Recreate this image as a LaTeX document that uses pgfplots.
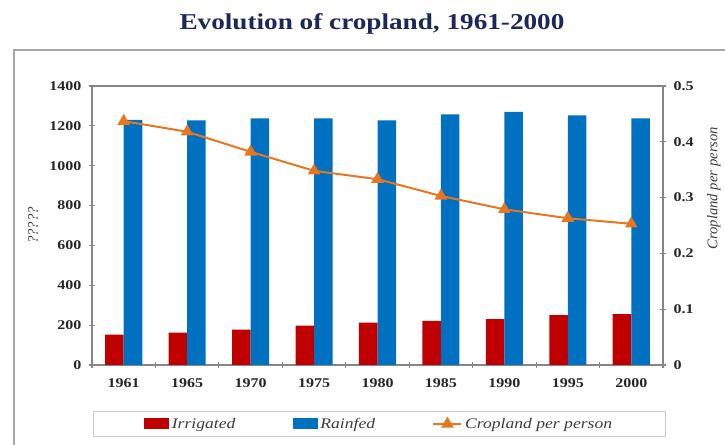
\documentclass[border=0pt]{standalone}
\usepackage{fontspec}
\setmainfont{Liberation Serif}[FakeStretch=1.2]
\newfontfamily\plainserif{Liberation Serif}
\usepackage{pgfplots}
\usepackage{pgfplotstable}
\pgfplotsset{compat=1.18}
\definecolor{irr}{RGB}{192,0,0}
\definecolor{rain}{RGB}{0,112,192}
\definecolor{crop}{RGB}{232,118,30}
\definecolor{ttl}{RGB}{28,40,86}
\definecolor{axgray}{RGB}{134,134,134}
\definecolor{txt}{RGB}{60,60,60}

\pgfplotstableread{
x year irr rain crop
0 1961 153 1230 0.437
1 1965 162 1228 0.418
2 1970 178 1238 0.382
3 1975 198 1238 0.348
4 1980 212 1228 0.333
5 1985 222 1258 0.303
6 1990 230 1270 0.279
7 1995 250 1253 0.263
8 2000 255 1238 0.253
}\data

\pgfplotsset{base/.style={
  scale only axis, width=428.25pt, height=209.25pt,
  at={(69pt,60pt)}, anchor=south west,
  xmin=-0.5, xmax=8.5,
  axis line style={axgray, line width=0.8pt},
  tick style={axgray, line width=0.8pt},
  tick align=center, major tick length=5pt, minor tick length=5pt,
  /pgf/number format/assume math mode=true,
  /pgf/number format/1000 sep={},
  ticklabel style={font=\fontsize{10}{12}\selectfont\bfseries, text=black!85},
},
barleg/.style={legend image code/.code={\fill[##1] (0pt,-4pt) rectangle (18.75pt,4.25pt);}},
lineleg/.style={legend image code/.code={\draw[##1, mark repeat=2, mark phase=2] plot coordinates {(0pt,0pt) (10.5pt,0pt) (21pt,0pt)};}},
}

\begin{document}
\begin{tikzpicture}
\path[use as bounding box, clip] (0,0) rectangle (543.75pt,333.75pt);
\draw[gray!70, line width=1.4pt] (10.5pt,-10pt) -- (10.5pt,296.25pt) -- (560pt,296.25pt);
\node[font=\fontsize{17}{20}\selectfont\bfseries, text=ttl] at (279pt,315.5pt) {Evolution of cropland, 1961-2000};

\begin{axis}[base,
  xtick={0,...,8},
  xticklabels={1961,1965,1970,1975,1980,1985,1990,1995,2000},
  major x tick style={draw=none},
  minor xtick={-0.5,0.5,...,8.5},
  minor x tick style={draw=axgray},
  xtick pos=bottom,
  xticklabel style={yshift=-4pt},
  ymin=0, ymax=1400, ytick={0,200,...,1400},
  ytick pos=left,
  yticklabel style={xshift=-2pt},
  ylabel={?????},
  ylabel style={at={(axis description cs:-0.103,0.5)}, anchor=center, font=\plainserif\fontsize{11}{13}\selectfont\itshape, text=txt},
]
\addplot[ybar, bar width=13.9pt, bar shift=-6.95pt, fill=irr, draw=none] table[x=x,y=irr]{\data};
\addplot[ybar, bar width=13.9pt, bar shift=6.95pt, fill=rain, draw=none] table[x=x,y=rain]{\data};
\end{axis}

\begin{axis}[base,
  axis x line=none,
  axis y line*=right,
  ymin=0, ymax=0.5, ytick={0,0.1,...,0.5},
  yticklabel style={/pgf/number format/fixed, /pgf/number format/precision=1, xshift=2pt},
  ylabel={Cropland per person},
  ylabel style={at={(axis description cs:1.089,0.634)}, anchor=center, font=\plainserif\fontsize{11}{13}\selectfont\itshape, text=txt},
  legend columns=3,
  legend style={at={(0.5035,-0.2115)}, anchor=center, draw=black!20, line width=0.8pt,
    inner xsep=38pt, inner ysep=3pt,
    font=\fontsize{11}{13}\selectfont\itshape, text=txt,
    /tikz/every even column/.append style={column sep=41pt}},
]
\addlegendimage{fill=irr, draw=none, barleg}
\addlegendentry{Irrigated}
\addlegendimage{fill=rain, draw=none, barleg}
\addlegendentry{Rainfed}
\addplot[crop, line width=1.5pt, mark=triangle*, mark size=4pt, mark options={fill=crop, solid}, lineleg]
  table[x=x,y=crop]{\data};
\addlegendentry{Cropland per person}
\end{axis}
\end{tikzpicture}
\end{document}
